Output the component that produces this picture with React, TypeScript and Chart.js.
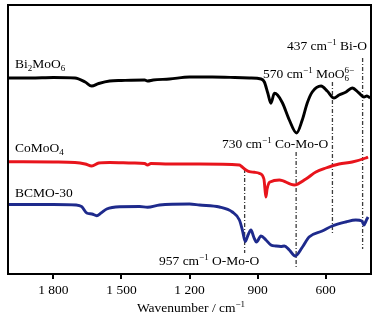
import React, { useEffect, useRef } from 'react';
import { Chart, registerables } from 'chart.js';

Chart.register(...registerables);

// ---- Data (wavenumber in cm^-1, offset transmittance in arbitrary units) ----
const bi2moo6X = [2000, 1900, 1800, 1705, 1660, 1631, 1600, 1552, 1500, 1398, 1385, 1360, 1288, 1200, 1100, 1000, 936, 884, 870, 855, 841, 826, 812, 790, 760, 728, 703, 681, 659, 620, 593, 563, 541, 510, 483, 453, 431, 418, 404];
const bi2moo6Y = [197, 197, 197.5, 197, 193, 189, 191.5, 194, 194.5, 195, 194, 195, 196, 198, 198, 197.5, 197, 196, 193, 182, 171.7, 181.7, 180, 172, 155, 142, 155, 172, 183, 189, 184, 177, 180, 183, 187, 182, 178, 179, 177];

const comoo4X = [2000, 1800, 1705, 1660, 1631, 1600, 1552, 1450, 1398, 1385, 1370, 1290, 1200, 1156, 980, 973, 951, 936, 914, 892, 872, 867, 863, 858, 850, 845, 804, 738, 687, 643, 599, 541, 483, 423, 413];
const comoo4Y = [113.3, 113, 112.5, 111, 109, 112, 112.5, 112, 111.5, 110, 111.5, 111, 111, 111, 110, 109, 105, 103.3, 102.7, 101.7, 96, 85, 78, 86, 92, 93, 95, 90, 96, 103, 107, 111, 113, 117, 118];

const bcmoX = [2000, 1800, 1700, 1675, 1653, 1630, 1609, 1590, 1565, 1508, 1420, 1385, 1332, 1200, 1156, 1068, 1011, 980, 967, 954, 942, 929, 917, 905, 885, 863, 841, 819, 797, 782, 760, 734, 702, 673, 615, 571, 511, 467, 440, 431, 424, 418, 413];
const bcmoY = [70.5, 70.5, 70, 68.3, 62, 61, 59.3, 62, 66, 68.3, 68.5, 67.7, 70, 71, 70, 68, 63, 55, 45, 33.5, 40, 45, 38, 33, 39, 35, 30, 29, 28.5, 29, 25, 19, 28, 38, 44, 49, 53, 55, 54, 50, 53, 56, 58];

// marker lines: wavenumber, start and end heights
const markerX = [957, 730, 570, 437];
const markerTop = [106, 123, 193, 217];
const markerBottom = [22, 7, 41, 26];

const xTicks = [1800, 1500, 1200, 900, 600];

const seriesNames = ['Bi2MoO6', 'CoMoO4', 'BCMO-30'];
const seriesColors = ['#000000', '#e8141c', '#1e2a8c'];

const FONT = '"Liberation Serif", "Times New Roman", serif';

type Part = [string, number]; // 0 normal, 1 sup, 2 sub, 3 sub without advance

function drawRich(ctx: CanvasRenderingContext2D, parts: Part[], x: number, y: number, align: string, size: number) {
  const small = Math.round(size * 0.7);
  const widths = parts.map(([t, m]) => {
    ctx.font = `${m ? small : size}px ${FONT}`;
    return m === 3 ? 0 : ctx.measureText(t).width;
  });
  const total = widths.reduce((a, b) => a + b, 0);
  let cx = align === 'right' ? x - total : align === 'center' ? x - total / 2 : x;
  ctx.textAlign = 'left';
  ctx.textBaseline = 'alphabetic';
  ctx.fillStyle = '#000';
  parts.forEach(([t, m], i) => {
    ctx.font = `${m ? small : size}px ${FONT}`;
    const dy = m === 1 ? -size * 0.4 : m >= 2 ? size * 0.25 : 0;
    ctx.fillText(t, cx, y + dy);
    cx += widths[i];
  });
}

const textPlugin = {
  id: 'texts',
  afterDraw(chart: any) {
    const ctx = chart.ctx as CanvasRenderingContext2D;
    const { left, top, right, bottom } = chart.chartArea;
    ctx.save();
    // frame
    ctx.strokeStyle = '#000';
    ctx.lineWidth = 2;
    ctx.strokeRect(left, top, right - left, bottom - top);
    const s = 13.5;
    drawRich(ctx, [['Bi', 0], ['2', 2], ['MoO', 0], ['6', 2]], 15, 68, 'left', s);
    drawRich(ctx, [['CoMoO', 0], ['4', 2]], 15, 152, 'left', s);
    drawRich(ctx, [['BCMO-30', 0]], 15, 197, 'left', s);
    drawRich(ctx, [['437 cm', 0], ['\u22121', 1], [' Bi-O', 0]], 367, 50, 'right', s);
    drawRich(ctx, [['570 cm', 0], ['\u22121', 1], [' MoO', 0], ['6', 3], ['6\u2212', 1]], 263, 78, 'left', s);
    drawRich(ctx, [['730 cm', 0], ['\u22121', 1], [' Co-Mo-O', 0]], 222, 148, 'left', s);
    drawRich(ctx, [['957 cm', 0], ['\u22121', 1], [' O-Mo-O', 0]], 159, 265, 'left', s);
    drawRich(ctx, [['Wavenumber / cm', 0], ['\u22121', 1]], 191, 312, 'center', s);
    ctx.restore();
  },
};

function fmt(v: number) {
  const str = String(Math.round(v));
  return str.length > 3 ? str.slice(0, str.length - 3) + ' ' + str.slice(-3) : str;
}

export default function App() {
  const ref = useRef<HTMLCanvasElement | null>(null);
  useEffect(() => {
    document.body.style.margin = '0';
    const canvas = ref.current!;
    const curves = [
      [bi2moo6X, bi2moo6Y],
      [comoo4X, comoo4Y],
      [bcmoX, bcmoY],
    ];
    const datasets: any[] = curves.map(([xs, ys], i) => ({
      label: seriesNames[i],
      data: xs.map((x, j) => ({ x, y: ys[j] })),
      borderColor: seriesColors[i],
      borderWidth: 2.9,
      pointRadius: 0,
      cubicInterpolationMode: 'monotone',
      fill: false,
    }));
    markerX.forEach((x, i) => {
      datasets.push({
        label: 'marker' + x,
        data: [
          { x, y: markerTop[i] },
          { x, y: markerBottom[i] },
        ],
        borderColor: '#3c3c3c',
        borderWidth: 1.3,
        borderDash: [4, 2, 1, 2],
        pointRadius: 0,
        tension: 0,
        fill: false,
      });
    });
    const chart = new Chart(canvas, {
      type: 'line',
      data: { datasets },
      options: {
        animation: false,
        responsive: false,
        layout: { padding: { left: 8, right: 10, top: 5, bottom: 0 } },
        plugins: { legend: { display: false }, tooltip: { enabled: false } },
        scales: {
          x: {
            type: 'linear',
            reverse: true,
            min: 400,
            max: 2000,
            afterBuildTicks: (s: any) => {
              s.ticks = xTicks.map((v) => ({ value: v }));
            },
            afterFit: (s: any) => {
              s.height = 45;
            },
            ticks: {
              callback: (v: any) => fmt(Number(v)),
              font: { family: FONT, size: 13.5 },
              color: '#000',
              padding: 3,
              maxRotation: 0,
              autoSkip: false,
            },
            grid: { drawOnChartArea: false, drawTicks: true, tickLength: 5, color: '#000', lineWidth: 2 },
            border: { display: true, color: '#000', width: 2 },
          },
          y: { display: false, min: 1, max: 270 },
        },
      } as any,
      plugins: [textPlugin],
    });
    return () => chart.destroy();
  }, []);
  return <canvas ref={ref} width={381} height={319} style={{ display: 'block' }} />;
}
